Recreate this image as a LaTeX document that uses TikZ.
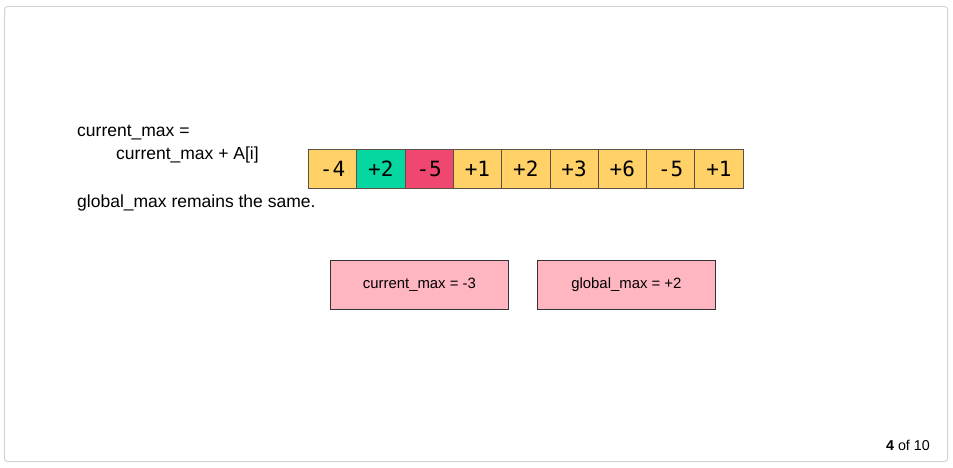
\documentclass[tikz,border=0pt]{standalone}
\usepackage{fontspec}
\setmainfont{Liberation Sans}
\newfontfamily\cellfont{DejaVu Sans Mono}
\definecolor{cyel}{RGB}{255,209,102}
\definecolor{cgrn}{RGB}{6,214,160}
\definecolor{cred}{RGB}{239,71,111}
\definecolor{cpink}{RGB}{255,182,193}
\definecolor{cframe}{RGB}{210,210,210}
\definecolor{cedge}{RGB}{90,80,70}
\tikzset{
  cell/.style={draw=cedge, line width=0.8pt, minimum width=48.3pt, minimum height=39pt, inner sep=0pt, font=\cellfont\fontsize{21}{24}\selectfont, anchor=north west},
  infobox/.style={draw=black!80, fill=cpink, line width=0.8pt, minimum width=178pt, minimum height=49pt, inner sep=0pt, font=\fontsize{14.9}{17}\selectfont, anchor=north west},
  txt/.style={anchor=base west, inner sep=0pt, font=\fontsize{17.5}{20}\selectfont}
}
\begin{document}
\begin{tikzpicture}[x=1pt,y=-1pt]
\useasboundingbox (0,0) rectangle (953,468);
\draw[cframe, line width=1pt, rounded corners=3pt] (4.5,6.5) rectangle (947.5,461.5);
\node[txt] (t1) at (77,137) {current\_max =};
\node[txt] (t2) at (116,160) {current\_max + A[i]};
\node[txt] (t3) at (77,207) {global\_max remains the same.};
\node[cell, fill=cyel] (c0) at (308.0,149) {-4};
\node[cell, fill=cgrn] (c1) at (356.3,149) {+2};
\node[cell, fill=cred] (c2) at (404.6,149) {-5};
\node[cell, fill=cyel] (c3) at (452.9,149) {+1};
\node[cell, fill=cyel] (c4) at (501.2,149) {+2};
\node[cell, fill=cyel] (c5) at (549.5,149) {+3};
\node[cell, fill=cyel] (c6) at (597.8,149) {+6};
\node[cell, fill=cyel] (c7) at (646.1,149) {-5};
\node[cell, fill=cyel] (c8) at (694.4,149) {+1};
\node[infobox] (b1) at (330,259.5) {current\_max = -3};
\node[infobox] (b2) at (537,259.5) {global\_max = +2};
\node[anchor=base east, inner sep=0pt, font=\fontsize{14.3}{16}\selectfont] (pg) at (930,450) {\textbf{4} of 10};
\end{tikzpicture}
\end{document}
